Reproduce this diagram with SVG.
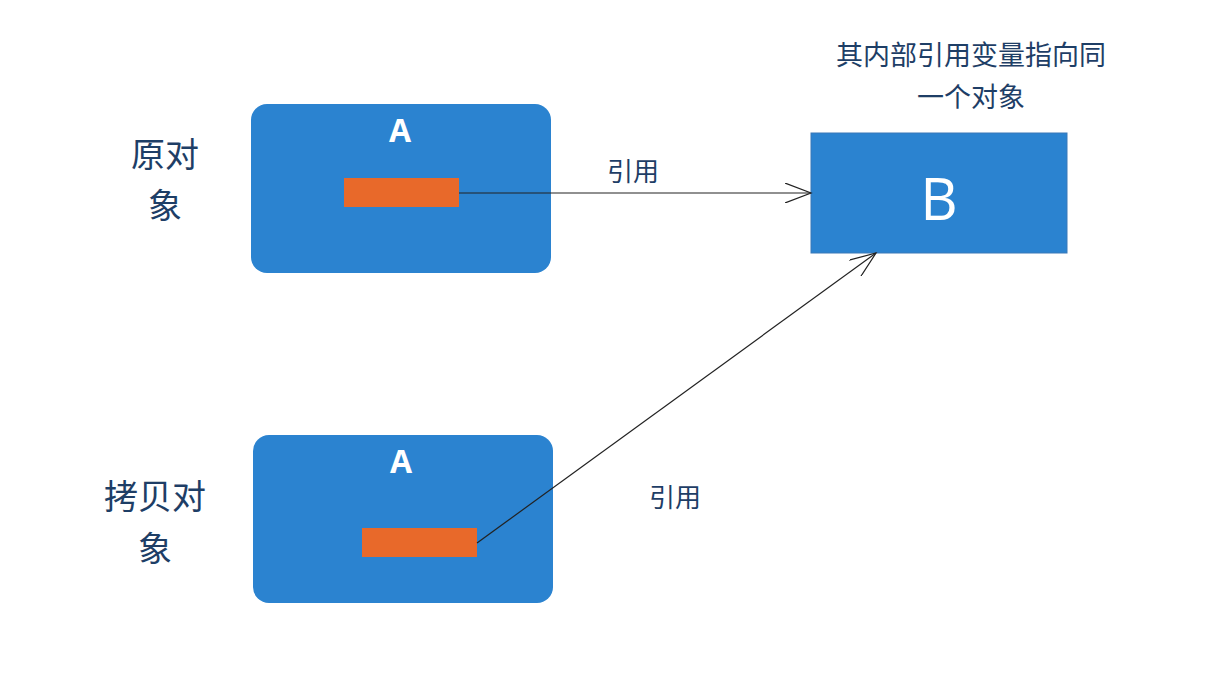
<svg xmlns="http://www.w3.org/2000/svg" width="1210" height="688" viewBox="0 0 1210 688">
<style>
.box{fill:#2B83D0;}
.bar{fill:#E8692A;}
.lbl{font-family:"Noto Sans CJK SC","Noto Sans",sans-serif;fill:#1E3E66;}
.wt{font-family:"Open Sans","Noto Sans",sans-serif;fill:#FFFFFF;text-anchor:middle;}
.conn{stroke:#222;stroke-width:1.2;fill:none;marker-end:url(#arr);}
</style>
<defs>
<marker id="arr" markerWidth="30" markerHeight="20" refX="26" refY="10" orient="auto" markerUnits="userSpaceOnUse">
<path d="M0,0 L26,10 L0,20" fill="none" stroke="#222" stroke-width="1.2"/>
</marker>
</defs>
<rect width="1210" height="688" fill="#FFFFFF"/>
<g id="label-orig">
<text class="lbl" x="165" y="167" font-size="34" text-anchor="middle">原对</text>
<text class="lbl" x="165" y="218" font-size="34" text-anchor="middle">象</text>
</g>
<g id="label-copy">
<text class="lbl" x="155" y="509" font-size="34" text-anchor="middle">拷贝对</text>
<text class="lbl" x="155" y="561" font-size="34" text-anchor="middle">象</text>
</g>
<g id="label-b">
<text class="lbl" x="971" y="65" font-size="27" text-anchor="middle">其内部引用变量指向同</text>
<text class="lbl" x="971" y="107" font-size="27" text-anchor="middle">一个对象</text>
</g>
<g id="nodeA1">
<rect class="box" x="251" y="104" width="300" height="169" rx="16"/>
<text class="wt" x="400" y="142" font-size="32" font-weight="bold">A</text>
<rect class="bar" x="344" y="178" width="115" height="29"/>
</g>
<g id="nodeA2">
<rect class="box" x="253" y="435" width="300" height="168" rx="16"/>
<text class="wt" x="401" y="473" font-size="32" font-weight="bold">A</text>
<rect class="bar" x="362" y="528" width="115" height="29"/>
</g>
<g id="nodeB">
<rect class="box" x="811" y="133" width="256" height="120" stroke="#3A78B8" stroke-width="1"/>
<text class="wt" x="939" y="220" font-size="58">B</text>
</g>
<g id="connectors">
<line class="conn" x1="459" y1="193" x2="811" y2="193"/>
<line class="conn" x1="477" y1="543" x2="876" y2="253"/>
<text class="lbl" x="633" y="181" font-size="26" text-anchor="middle">引用</text>
<text class="lbl" x="675" y="507" font-size="26" text-anchor="middle">引用</text>
</g>
</svg>
